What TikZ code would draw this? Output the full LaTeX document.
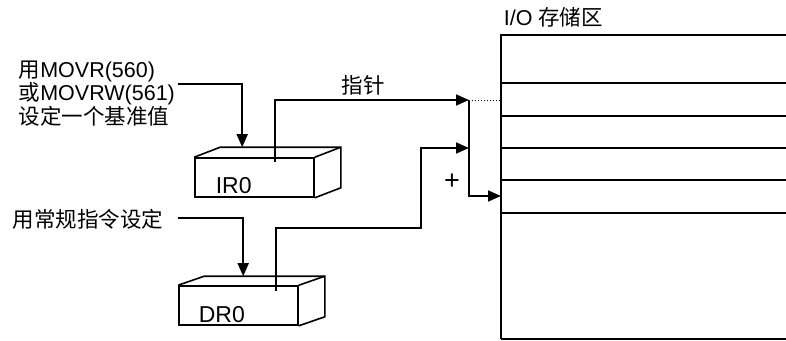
\documentclass[tikz,border=0pt]{standalone}
\usepackage{fontspec}
\setmainfont{Liberation Sans}
\newfontfamily\cjk{Noto Sans CJK SC}
\usetikzlibrary{arrows.meta,calc}
\begin{document}
\begin{tikzpicture}[x=1pt,y=-1pt,line width=1.6pt,
  txt/.style={font=\fontsize{21.5}{24}\selectfont, inner sep=0pt, anchor=base west},
  lbl/.style={font=\fontsize{23}{26}\selectfont, inner sep=0pt, anchor=base west},
  reg/.style={draw, minimum width=119pt, minimum height=39pt, inner sep=0pt, line width=1.6pt},
  arr/.style={-{Triangle[length=13pt,width=11pt]}, line width=1.6pt},
  slot/.style={line width=1.2pt},
  frame/.style={line width=2.2pt}]
\useasboundingbox (0,0) rectangle (786,340);

% texts on the left
\node[txt] (t1a) at (18,77) {{\cjk 用}MOVR(560)};
\node[txt] (t1b) at (18,100.5) {{\cjk 或}MOVRW(561)};
\node[txt] (t1c) at (18,124.5) {\cjk 设定一个基准值};
\node[txt] (t2) at (12,227) {\cjk 用常规指令设定};
\node[txt] (mt) at (503,25) {I/O {\cjk 存储区}};
\node[txt, anchor=base] (ptr) at (363,93) {\cjk 指针};
\node[font=\fontsize{27}{30}\selectfont, inner sep=0pt] (plus) at (452,182) {+};

% IR0 box
\node[reg] (ir0) at (254.5,177.5) {};
\draw (ir0.north west) -- ++(26,-10) -- ($(ir0.north east)+(26,-10)$) -- ($(ir0.south east)+(26,-10)$) -- (ir0.south east);
\draw (ir0.north east) -- ++(26,-10);
\node[lbl] (ir0l) at (215,193) {IR0};
\coordinate (ir0in) at ($(ir0.north west)+(48,-10)$);
\coordinate (ir0out) at ($(ir0.north west)+(81,5)$);

% DR0 box
\node[reg] (dr0) at (238.5,305.5) {};
\draw (dr0.north west) -- ++(26,-9) -- ($(dr0.north east)+(26,-9)$) -- ($(dr0.south east)+(26,-9)$) -- (dr0.south east);
\draw (dr0.north east) -- ++(26,-9);
\node[lbl] (dr0l) at (198,322) {DR0};
\coordinate (dr0in) at ($(dr0.north west)+(65,-9)$);
\coordinate (dr0out) at ($(dr0.north west)+(98,6)$);

% memory area
\coordinate (mtl) at (501,35);
\coordinate (mbl) at (501,339);
\coordinate (mtr) at (786,35);
\draw[frame] (mtr) -- (mtl) -- (mbl);
\draw[slot] (mbl) -- (786,339);
\foreach \yy in {83,116,148,180,213} \draw[slot] (501,\yy) -- (786,\yy);

% connectors
\coordinate (s1) at (178,84);
\coordinate (s2) at (178,218);
\coordinate (j1) at (469,100);
\coordinate (j3) at (469,148);
\coordinate (k1) at (421,228);
\coordinate (memin) at (501,196);

\draw[arr] (s1) -| (ir0in);
\draw[arr] (s2) -| (dr0in);
\draw[arr] (ir0out) |- (j1);
\draw[arr] (j1) |- (memin);
\draw[dotted, line width=1pt] (j1) -- (mtl |- j1);
\draw[arr] (dr0out) |- (k1) |- (j3);
\end{tikzpicture}
\end{document}
